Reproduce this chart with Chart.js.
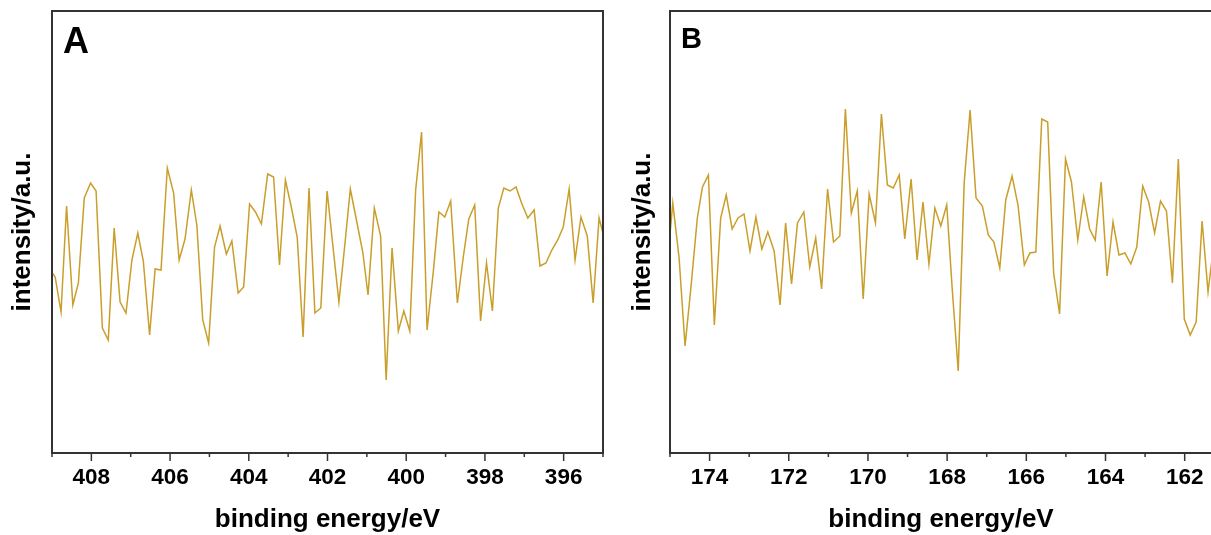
<!DOCTYPE html>
<html>
<head>
<meta charset="utf-8">
<script src="https://cdn.jsdelivr.net/npm/chart.js@4.4.1/dist/chart.umd.min.js"></script>
<style>
    html, body { margin: 0; padding: 0; background: #fff; overflow: hidden; width: 1211px; height: 535px; }
    canvas { position: absolute; top: 0; }
    #panel-a { left: 0; }
    #panel-b { left: 610px; }
</style>
</head>
<body>
<canvas id="panel-a" width="610" height="535"></canvas>
<canvas id="panel-b" width="605" height="535"></canvas>
<script>
// panel A: N 1s region
const energyA = [
    409.08, 408.92, 408.77, 408.63, 408.47, 408.33, 408.18, 408.02, 407.88, 407.72,
    407.57, 407.42, 407.27, 407.12, 406.97, 406.82, 406.68, 406.52, 406.38, 406.23,
    406.07, 405.91, 405.77, 405.62, 405.46, 405.32, 405.17, 405.02, 404.87, 404.73,
    404.57, 404.43, 404.27, 404.13, 403.98, 403.83, 403.68, 403.52, 403.37, 403.22,
    403.07, 402.92, 402.77, 402.62, 402.47, 402.32, 402.17, 402.01, 401.86, 401.71,
    401.56, 401.42, 401.26, 401.10, 400.97, 400.81, 400.65, 400.51, 400.36, 400.20,
    400.06, 399.91, 399.76, 399.61, 399.47, 399.31, 399.17, 399.02, 398.87, 398.70,
    398.55, 398.41, 398.26, 398.11, 397.96, 397.81, 397.66, 397.52, 397.36, 397.21,
    397.06, 396.91, 396.75, 396.60, 396.45, 396.30, 396.15, 396.01, 395.86, 395.71,
    395.56, 395.40, 395.25, 395.10, 394.95
];
const intensityA = [
    187, 178, 143, 249, 150, 172, 257, 272, 264, 127,
    115, 227, 153, 142, 195, 222, 194, 120, 186, 185,
    287, 262, 195, 216, 265, 230, 135, 112, 208, 229,
    201, 214, 162, 168, 251, 243, 231, 281, 278, 190,
    275, 248, 218, 118, 267, 142, 147, 264, 208, 153,
    210, 266, 234, 202, 160, 247, 219, 75, 207, 124,
    144, 124, 265, 323, 125, 184, 243, 238, 254, 152,
    198, 236, 250, 134, 192, 144, 247, 267, 264, 268,
    251, 237, 245, 189, 192, 205, 215, 228, 266, 195,
    238, 219, 152, 237, 214
];

// panel B: S 2p region
const energyB = [
    175.08, 174.93, 174.77, 174.62, 174.47, 174.31, 174.18, 174.03, 173.88, 173.72,
    173.58, 173.43, 173.28, 173.13, 172.98, 172.83, 172.68, 172.53, 172.37, 172.22,
    172.08, 171.93, 171.78, 171.62, 171.47, 171.32, 171.17, 171.02, 170.87, 170.71,
    170.57, 170.42, 170.27, 170.12, 169.97, 169.81, 169.66, 169.51, 169.36, 169.21,
    169.07, 168.91, 168.76, 168.61, 168.46, 168.31, 168.16, 168.01, 167.87, 167.72,
    167.57, 167.42, 167.27, 167.11, 166.96, 166.82, 166.67, 166.52, 166.36, 166.21,
    166.05, 165.91, 165.76, 165.61, 165.46, 165.31, 165.16, 165.01, 164.86, 164.70,
    164.55, 164.40, 164.26, 164.11, 163.96, 163.81, 163.66, 163.51, 163.36, 163.21,
    163.06, 162.91, 162.76, 162.61, 162.46, 162.31, 162.16, 162.01, 161.86, 161.71,
    161.56, 161.41, 161.26
];
const intensityB = [
    185, 252, 197, 109, 168, 237, 268, 280, 130, 237,
    260, 226, 237, 241, 204, 238, 206, 223, 204, 150,
    232, 171, 232, 243, 188, 217, 166, 266, 213, 219,
    346, 242, 264, 156, 261, 232, 341, 270, 267, 280,
    216, 276, 195, 253, 191, 247, 229, 250, 165, 84,
    272, 345, 257, 249, 220, 213, 187, 255, 279, 250,
    190, 202, 203, 336, 333, 182, 141, 296, 273, 215,
    258, 226, 215, 273, 179, 233, 200, 202, 191, 208,
    269, 253, 222, 254, 244, 172, 296, 136, 120, 133,
    234, 163, 212
];

const ticksA = [408, 406, 404, 402, 400, 398, 396];
const ticksB = [174, 172, 170, 168, 166, 164, 162];

const FONT = '"Liberation Sans", Arial, Helvetica, sans-serif';
const LINE_COLOR = '#C99E2A';
const AXIS_COLOR = '#333333';

// box around the plot, minor/major ticks, panel letter
const framePlugin = {
    id: 'frame',
    afterDraw(chart, args, opts) {
        const { ctx, chartArea: a, scales: { x } } = chart;
        ctx.save();
        ctx.strokeStyle = AXIS_COLOR;
        ctx.lineWidth = 2;
        ctx.strokeRect(a.left, a.top, a.right - a.left, a.bottom - a.top);
        ctx.lineWidth = 1.5;
        for (let v = Math.ceil(x.min); v <= x.max; v++) {
            const px = x.getPixelForValue(v);
            const len = v % 2 === 0 ? 8 : 4;
            ctx.beginPath();
            ctx.moveTo(px, a.bottom);
            ctx.lineTo(px, a.bottom + len);
            ctx.stroke();
        }
        ctx.fillStyle = '#000';
        ctx.font = 'bold ' + opts.size + 'px ' + FONT;
        ctx.textBaseline = 'alphabetic';
        ctx.fillText(opts.text, a.left + 11, opts.baseline);
        ctx.restore();
    }
};

function makePanel(id, energy, intensity, ticks, cfg) {
    const ctx = document.getElementById(id).getContext('2d');
    return new Chart(ctx, {
        type: 'line',
        data: {
            datasets: [{
                data: energy.map((e, i) => ({ x: e, y: intensity[i] })),
                borderColor: LINE_COLOR,
                borderWidth: 1.5,
                pointRadius: 0,
                tension: 0,
                fill: false
            }]
        },
        options: {
            responsive: false,
            animation: false,
            devicePixelRatio: 1,
            layout: { padding: { top: 11, right: cfg.padRight, left: 0, bottom: 0 } },
            plugins: {
                legend: { display: false },
                tooltip: { enabled: false },
                frame: { text: cfg.letter, size: cfg.letterSize, baseline: cfg.letterBaseline }
            },
            scales: {
                x: {
                    type: 'linear',
                    reverse: true,
                    min: cfg.xMin,
                    max: cfg.xMax,
                    afterFit: s => { s.height = 82; },
                    afterBuildTicks: s => { s.ticks = ticks.map(v => ({ value: v })); },
                    grid: { display: false, drawTicks: false },
                    border: { display: false },
                    ticks: {
                        padding: 11,
                        color: '#000',
                        autoSkip: false,
                        maxRotation: 0,
                        font: { family: FONT, size: 22.5, weight: 'bold' }
                    },
                    title: {
                        display: true,
                        text: 'binding energy/eV',
                        color: '#000',
                        font: { family: FONT, size: 26, weight: 'bold' },
                        padding: { top: 0, bottom: 0 }
                    }
                },
                y: {
                    min: 2,
                    max: 444,
                    afterFit: s => { s.width = cfg.yWidth; },
                    grid: { display: false, drawTicks: false },
                    border: { display: false },
                    ticks: { display: false },
                    title: {
                        display: true,
                        text: 'intensity/a.u.',
                        color: '#000',
                        font: { family: FONT, size: 26, weight: 'bold' },
                        padding: { top: cfg.yTitlePad, bottom: 0 }
                    }
                }
            }
        },
        plugins: [framePlugin]
    });
}

makePanel('panel-a', energyA, intensityA, ticksA, {
    xMin: 395, xMax: 409, padRight: 7, yWidth: 52, yTitlePad: 7,
    letter: 'A', letterSize: 36, letterBaseline: 53
});
makePanel('panel-b', energyB, intensityB, ticksB, {
    xMin: 161.31, xMax: 175, padRight: 3, yWidth: 60, yTitlePad: 17,
    letter: 'B', letterSize: 29, letterBaseline: 48
});
</script>
</body>
</html>
